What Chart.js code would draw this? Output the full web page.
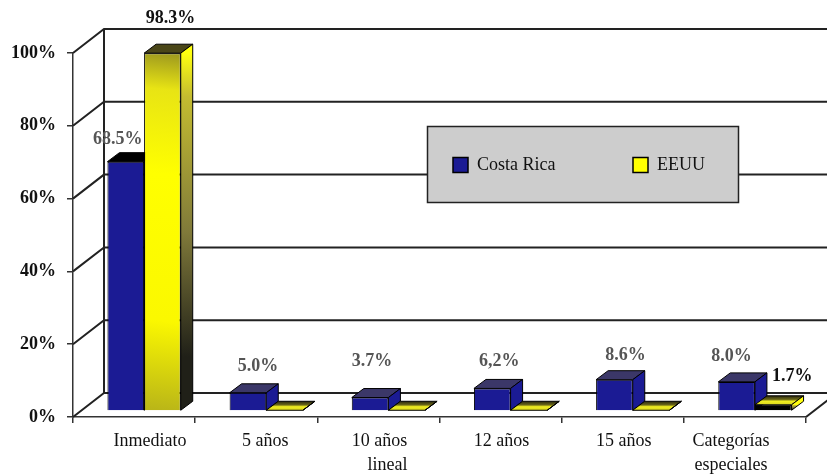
<!DOCTYPE html>
<html>
<head>
<meta charset="utf-8">
<style>
html, body { margin: 0; padding: 0; background: #fff; }
canvas { display: block; }
</style>
<script src="https://cdn.jsdelivr.net/npm/chart.js@4/dist/chart.umd.min.js"></script>
</head>
<body>
<canvas id="chart" width="827" height="475"></canvas>
<script>
var categories = ["Inmediato", "5 años", ["10 años", "lineal"], "12 años", "15 años", ["Categorías", "especiales"]];
var costaRica = [68.5, 5.0, 3.7, 6.2, 8.6, 8.0];
var eeuu = [98.3, 0.2, 0.2, 0.2, 0.2, 1.7];
var costaRicaLabels = ["68.5%", "5.0%", "3.7%", "6,2%", "8.6%", "8.0%"];
var eeuuLabels = ["98.3%", null, null, null, null, "1.7%"];
var yTicks = [0, 20, 40, 60, 80, 100];

var FONT = '"Liberation Serif", serif';
var BLUE = "#1b1b94";
// bars sit a little inside the floor, the box depth runs up and right
var barShift = { x: 10, y: -6 };
var barDepth = { x: 12, y: -9 };
var wallDepth = { x: 31, y: -24 };
var labelNudge = [16, 9, 1, 1, 1, -14];
var crNudge = [[-8, -22], [10, -26], [2, -36], [7, -27], [11, -24], [-5, -26]];
var usNudge = [[8, -35], null, null, null, null, [19, -28]];

function face(c, pts, fill) {
    c.beginPath();
    c.moveTo(pts[0][0], pts[0][1]);
    for (var i = 1; i < pts.length; i++) c.lineTo(pts[i][0], pts[i][1]);
    c.closePath();
    c.fillStyle = fill;
    c.fill();
    c.lineWidth = 1;
    c.strokeStyle = "#000";
    c.stroke();
}

function sideFill(c, el, datasetIndex) {
    if (datasetIndex === 0) return BLUE;
    var g = c.createLinearGradient(0, el.y, 0, el.base);
    g.addColorStop(0, "#ffff10");
    g.addColorStop(0.12, "#c4bc30");
    g.addColorStop(0.5, "#807a3a");
    g.addColorStop(0.85, "#202018");
    return g;
}

function topFill(c, el, i, datasetIndex) {
    if (datasetIndex === 0) return i === 0 ? "#000" : "#3b3768";
    if (i === 0) return "#4a4618";
    // the nearly flat yellow boxes fade from a dark back edge to yellow
    var g = c.createLinearGradient(0, el.y + barDepth.y, 0, el.y);
    g.addColorStop(0, "#2a2810");
    g.addColorStop(0.4, "#6a6618");
    g.addColorStop(0.6, "#f0ee20");
    g.addColorStop(1, "#d8d420");
    return g;
}

function drawBoxes(chart, index) {
    var c = chart.ctx;
    chart.getDatasetMeta(index).data.forEach(function(el, i) {
        var l = el.x - el.width / 2, r = el.x + el.width / 2;
        var dx = barDepth.x, dy = barDepth.y;
        face(c, [[l, el.y], [l + dx, el.y + dy], [r + dx, el.y + dy], [r, el.y]], topFill(c, el, i, index));
        face(c, [[r, el.y], [r + dx, el.y + dy], [r + dx, el.base + dy], [r, el.base]], sideFill(c, el, index));
    });
}

var frame3d = {
    id: "frame3d",
    beforeDatasetsDraw: function(chart) {
        var c = chart.ctx, y = chart.scales.y, a = chart.chartArea;
        c.save();
        c.strokeStyle = "#222";
        c.lineWidth = 2;
        yTicks.forEach(function(v) {
            var py = y.getPixelForValue(v);
            c.beginPath();
            c.moveTo(a.left, py);
            c.lineTo(a.left + wallDepth.x, py + wallDepth.y);
            c.lineTo(chart.width, py + wallDepth.y);
            c.stroke();
        });
        // back wall edge and the corner of the floor on the right
        c.beginPath();
        c.moveTo(a.left + wallDepth.x, a.top + wallDepth.y);
        c.lineTo(a.left + wallDepth.x, a.bottom + wallDepth.y);
        c.moveTo(a.right, a.bottom);
        c.lineTo(a.right + wallDepth.x, a.bottom + wallDepth.y);
        c.stroke();
        c.restore();
    },
    beforeDatasetDraw: function(chart, args) {
        // yellow goes over the blue boxes, so it is painted after them below
        if (args.index === 1) return false;
        chart.ctx.save();
        chart.ctx.translate(barShift.x, barShift.y);
        drawBoxes(chart, 0);
    },
    afterDatasetDraw: function(chart) {
        drawBoxes(chart, 1);
        chart.getDatasetMeta(1).data.forEach(function(el) {
            el.draw(chart.ctx);
        });
        chart.ctx.restore();
    },
    afterDatasetsDraw: function(chart) {
        var c = chart.ctx, x = chart.scales.x;
        c.save();
        // value labels
        c.textAlign = "center";
        c.textBaseline = "middle";
        c.font = "bold 18px " + FONT;
        chart.getDatasetMeta(0).data.forEach(function(el, i) {
            c.fillStyle = "#555";
            c.fillText(costaRicaLabels[i], el.x + barShift.x + crNudge[i][0], el.y + barShift.y + crNudge[i][1]);
        });
        chart.getDatasetMeta(1).data.forEach(function(el, i) {
            if (!eeuuLabels[i]) return;
            c.fillStyle = "#111";
            c.fillText(eeuuLabels[i], el.x + barShift.x + usNudge[i][0], el.y + barShift.y + usNudge[i][1]);
        });
        // category names under the floor
        c.font = "18px " + FONT;
        c.fillStyle = "#111";
        categories.forEach(function(name, i) {
            [].concat(name).forEach(function(t, n) {
                // "lineal" hangs a bit to the right of "10 años"
                var extra = t === "lineal" ? 8 : 0;
                c.fillText(t, x.getPixelForTick(i) + labelNudge[i] + extra, 441 + n * 24);
            });
        });
        // legend box
        c.fillStyle = "#cdcdcd";
        c.fillRect(427.5, 126.5, 311, 76);
        c.strokeStyle = "#222";
        c.lineWidth = 1.5;
        c.strokeRect(427.5, 126.5, 311, 76);
        c.textAlign = "left";
        [[453, 477], [633, 657]].forEach(function(p, i) {
            var ds = chart.data.datasets[i];
            c.fillStyle = i === 0 ? BLUE : "#ffff00";
            c.fillRect(p[0], 157.5, 15, 15);
            c.strokeStyle = "#000";
            c.strokeRect(p[0], 157.5, 15, 15);
            c.fillStyle = "#111";
            c.fillText(ds.label, p[1], 165);
        });
        c.restore();
    }
};

function yellowFront(ctx) {
    if (ctx.dataIndex === undefined || !ctx.chart.chartArea) return "#ffff00";
    if (ctx.raw < 3) return "#000";
    var px = ctx.chart.scales.x.getPixelForValue(ctx.dataIndex);
    var a = ctx.chart.chartArea;
    var g = ctx.chart.ctx.createLinearGradient(px + 37, a.top, px, a.bottom);
    g.addColorStop(0, "#8f8a20");
    g.addColorStop(0.12, "#e8e414");
    g.addColorStop(0.35, "#ffff00");
    g.addColorStop(0.75, "#fbf800");
    g.addColorStop(1, "#b8b418");
    return g;
}

new Chart(document.getElementById("chart"), {
    type: "bar",
    data: {
        labels: categories,
        datasets: [
            { label: "Costa Rica", data: costaRica, backgroundColor: BLUE, borderColor: "#000", borderWidth: 1 },
            { label: "EEUU", data: eeuu, backgroundColor: yellowFront, borderColor: "#000", borderWidth: 1 }
        ]
    },
    options: {
        responsive: false,
        animation: false,
        clip: false,
        categoryPercentage: 0.6,
        barPercentage: 1,
        layout: { padding: { top: 53, right: 21, left: 0, bottom: 0 } },
        plugins: { legend: { display: false }, tooltip: { enabled: false } },
        scales: {
            x: {
                afterFit: function(s) { s.height = 58; },
                grid: { drawOnChartArea: false, color: "#333", tickLength: 6, lineWidth: 1.5 },
                border: { color: "#333", width: 1.5 },
                ticks: { display: false }
            },
            y: {
                min: 0,
                max: 100,
                afterFit: function(s) { s.width = 73; },
                afterBuildTicks: function(s) { s.ticks = yTicks.map(function(v) { return { value: v }; }); },
                grid: { drawOnChartArea: false, color: "#333", tickLength: 6, lineWidth: 1.5 },
                border: { color: "#333", width: 1.5 },
                ticks: {
                    color: "#111",
                    padding: 11,
                    font: { family: FONT, size: 18, weight: "bold" },
                    callback: function(v) { return v + "%"; }
                }
            }
        }
    },
    plugins: [frame3d]
});
</script>
</body>
</html>
